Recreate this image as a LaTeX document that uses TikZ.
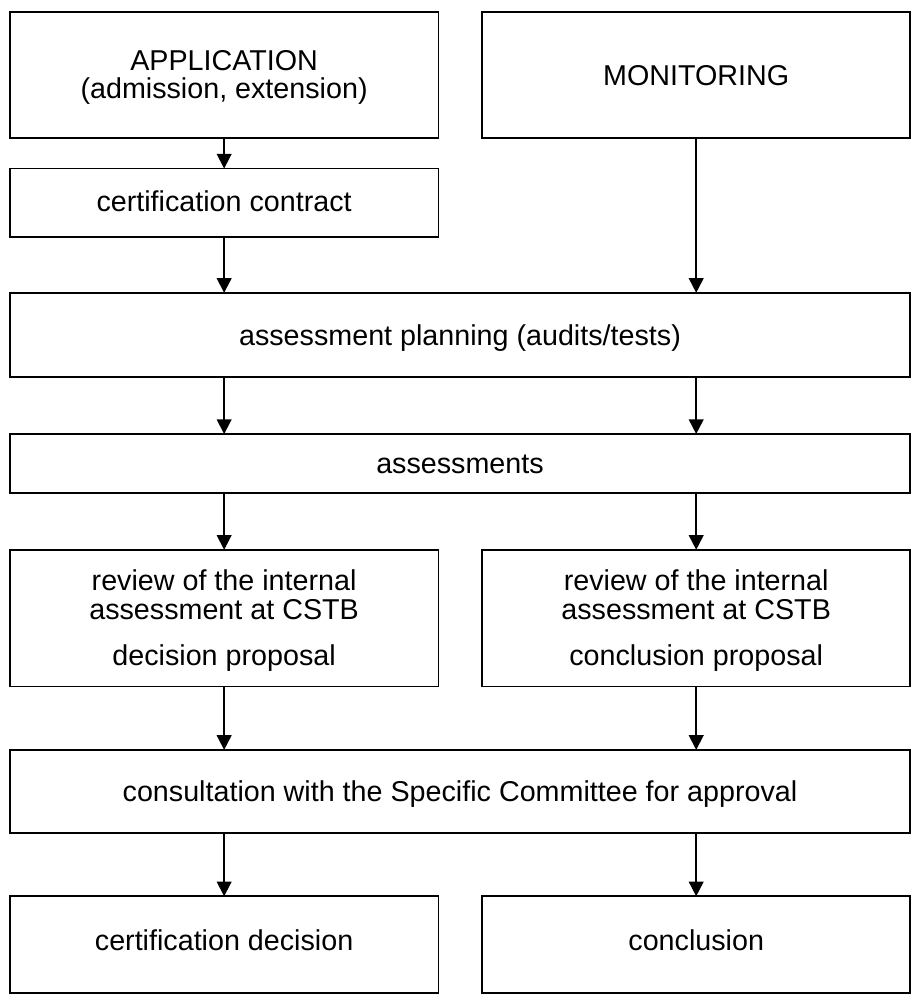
\documentclass[tikz,border=0pt]{standalone}
\usepackage{fontspec}
\setmainfont{Liberation Sans}
\usetikzlibrary{arrows.meta}
\begin{document}
\begin{tikzpicture}[x=1pt,y=-1pt,
  box/.style={draw, line width=1.9pt, rectangle, inner sep=0pt, outer sep=0pt, anchor=north west},
  lbl/.style={anchor=base, inner sep=0pt, font=\fontsize{29.4}{31}\selectfont},
  arr/.style={line width=1.9pt, -{Triangle[width=15pt,length=15pt]}}]
\useasboundingbox (0,0) rectangle (942.6,1029.7);
\fill[white] (0,0) rectangle (942.6,1029.7);
% boxes
\node[box, minimum width=439.3pt, minimum height=128.3pt] (app) at (10,12.7) {};
\node[box, minimum width=438.6pt, minimum height=128.3pt] (mon) at (494,12.7) {};
\node[box, minimum width=439.3pt, minimum height=70pt] (cert) at (10,172.7) {};
\node[box, minimum width=922.6pt, minimum height=86pt] (plan) at (10,300) {};
\node[box, minimum width=922.6pt, minimum height=60.3pt] (assess) at (10,444.7) {};
\node[box, minimum width=439.3pt, minimum height=140pt] (revl) at (10,563.3) {};
\node[box, minimum width=438.6pt, minimum height=140pt] (revr) at (494,563.3) {};
\node[box, minimum width=922.6pt, minimum height=85pt] (cons) at (10,768.3) {};
\node[box, minimum width=439.3pt, minimum height=99pt] (dec) at (10,918.3) {};
\node[box, minimum width=438.6pt, minimum height=99pt] (concl) at (494,918.3) {};
% labels
\node[lbl] (tapp1) at (229.6,72) {APPLICATION};
\node[lbl] (tapp2) at (229.6,100.5) {(admission, extension)};
\node[lbl] (tmon) at (713.3,87.3) {MONITORING};
\node[lbl] (tcert) at (229.6,216.7) {certification contract};
\node[lbl] (tplan) at (471.3,353.5) {assessment planning (audits/tests)};
\node[lbl] (tassess) at (471.3,485) {assessments};
\node[lbl] (trl1) at (229.6,605) {review of the internal};
\node[lbl] (trl2) at (229.6,635) {assessment at CSTB};
\node[lbl] (trl3) at (229.6,681.5) {decision proposal};
\node[lbl] (trr1) at (713.3,605) {review of the internal};
\node[lbl] (trr2) at (713.3,635) {assessment at CSTB};
\node[lbl] (trr3) at (713.3,681.5) {conclusion proposal};
\node[lbl] (tcons) at (471.3,821.7) {consultation with the Specific Committee for approval};
\node[lbl] (tdec) at (229.6,973.5) {certification decision};
\node[lbl] (tconcl) at (713.3,974) {conclusion};
% arrows
\draw[arr] (app.south) -- (cert.north);
\draw[arr] (cert.south) -- (plan.north -| cert.south);
\draw[arr] (mon.south) -- (plan.north -| mon.south);
\draw[arr] (plan.south -| cert.south) -- (assess.north -| cert.south);
\draw[arr] (plan.south -| mon.south) -- (assess.north -| mon.south);
\draw[arr] (assess.south -| revl.north) -- (revl.north);
\draw[arr] (assess.south -| revr.north) -- (revr.north);
\draw[arr] (revl.south) -- (cons.north -| revl.south);
\draw[arr] (revr.south) -- (cons.north -| revr.south);
\draw[arr] (cons.south -| dec.north) -- (dec.north);
\draw[arr] (cons.south -| concl.north) -- (concl.north);
\end{tikzpicture}
\end{document}
